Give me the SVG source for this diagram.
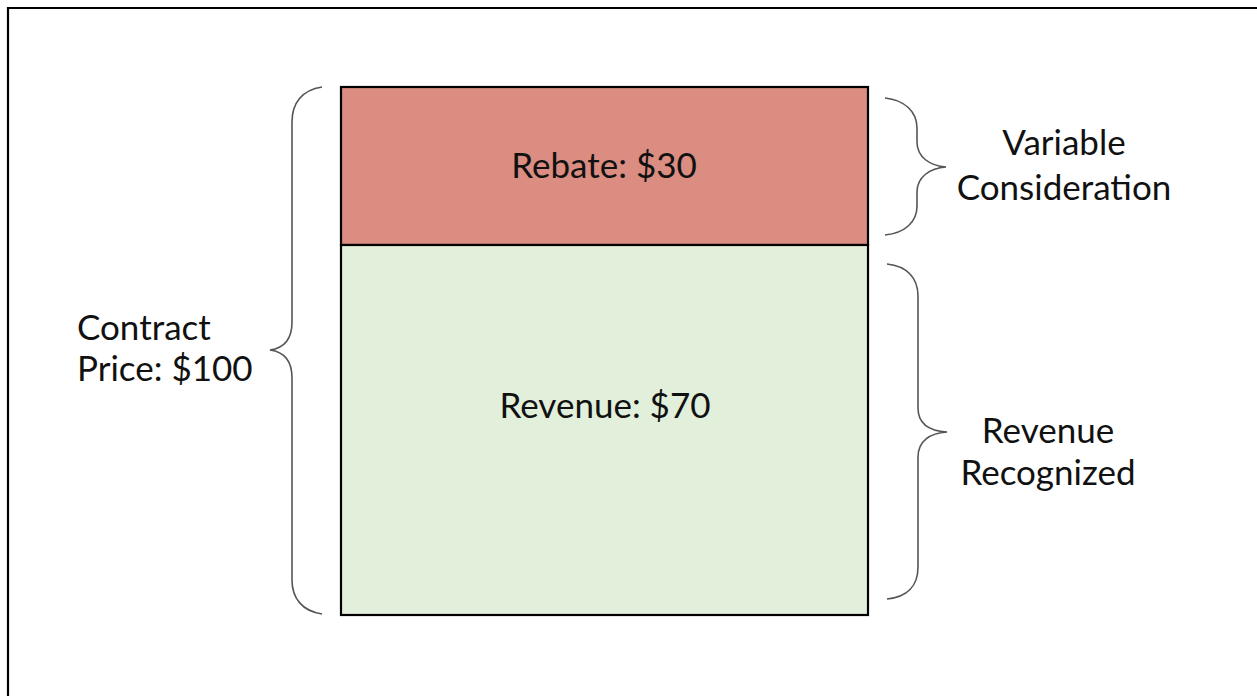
<svg xmlns="http://www.w3.org/2000/svg" width="1257" height="696" viewBox="0 0 1257 696">
<style>
.t{font-family:Lato,"Liberation Sans",sans-serif;font-size:35px;fill:#111}
.br{fill:none;stroke:#555;stroke-width:1.6}
</style>
<rect x="0" y="0" width="1257" height="696" fill="#fff"/>
<path d="M8,700 V8 H1262" fill="none" stroke="#000" stroke-width="2.2"/>
<g id="rebate">
<rect x="341" y="87" width="527" height="158" fill="#DA8D80" stroke="#000" stroke-width="2.2"/>
<text class="t" x="604" y="178" text-anchor="middle">Rebate: $30</text>
</g>
<g id="revenue">
<rect x="341" y="245" width="527" height="370" fill="#E2EFDA" stroke="#000" stroke-width="2.2"/>
<text class="t" x="605" y="418" text-anchor="middle">Revenue: $70</text>
</g>
<g id="connectors">
<path class="br" d="M322,87 C302,90 292,103 292,122 V322 C292,338 285,348 270,350 C285,352 292,362 292,378 V580 C292,598 302,611 322,614"/>
<path class="br" d="M885,98 C905,100 917,112 917,128 V142 C917,157 930,166 946,167 C930,168 917,177 917,192 V206 C917,222 905,233 885,235"/>
<path class="br" d="M887,264 C907,266 918,278 918,296 V408 C918,424 930,431 947,432 C930,433 918,441 918,457 V567 C918,586 907,597 887,599"/>
</g>
<g id="contract-price">
<text class="t" x="77" y="340">Contract</text>
<text class="t" x="77" y="381">Price: $100</text>
</g>
<g id="variable-consideration">
<text class="t" x="1064" y="155" text-anchor="middle">Variable</text>
<text class="t" x="1064" y="200" text-anchor="middle">Consideration</text>
</g>
<g id="revenue-recognized">
<text class="t" x="1048" y="443" text-anchor="middle">Revenue</text>
<text class="t" x="1048" y="485" text-anchor="middle">Recognized</text>
</g>
</svg>
